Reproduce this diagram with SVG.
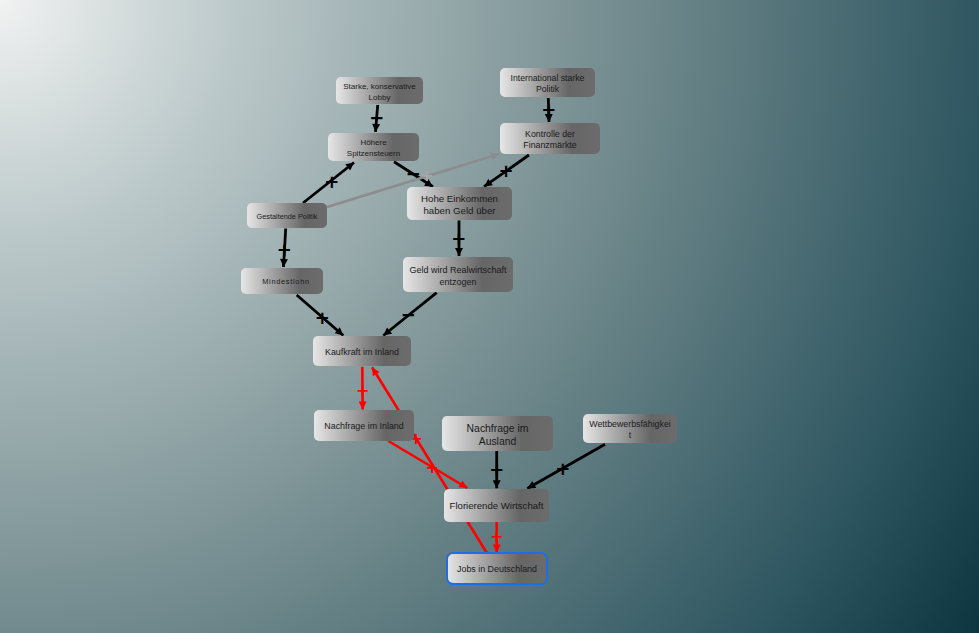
<svg xmlns="http://www.w3.org/2000/svg" width="979" height="633" viewBox="0 0 979 633">
<defs>
<radialGradient id="bg" gradientUnits="userSpaceOnUse" cx="0" cy="0" r="1165">
<stop offset="0" stop-color="#f1f2f2"/>
<stop offset="0.2" stop-color="#bcc9ca"/>
<stop offset="0.45" stop-color="#869b9e"/>
<stop offset="0.55" stop-color="#70898c"/>
<stop offset="0.85" stop-color="#2d5560"/>
<stop offset="1" stop-color="#0c3540"/>
</radialGradient>
<linearGradient id="ng" x1="0" y1="0" x2="1" y2="0">
<stop offset="0" stop-color="#e6e6e6"/>
<stop offset="0.72" stop-color="#666"/>
<stop offset="1" stop-color="#6c6c6c"/>
</linearGradient>
<marker id="ab" viewBox="0 0 10 10" refX="10" refY="5" markerWidth="9" markerHeight="8" markerUnits="userSpaceOnUse" orient="auto"><path d="M0,0 L10,5 L0,10 z" fill="#000"/></marker>
<marker id="ar" viewBox="0 0 10 10" refX="10" refY="5" markerWidth="9" markerHeight="8" markerUnits="userSpaceOnUse" orient="auto"><path d="M0,0 L10,5 L0,10 z" fill="#f00"/></marker>
<marker id="ag" viewBox="0 0 10 10" refX="10" refY="5" markerWidth="9" markerHeight="8" markerUnits="userSpaceOnUse" orient="auto"><path d="M0,0 L10,5 L0,10 z" fill="#8c8c8c"/></marker>
</defs>
<style>
.n rect{fill:url(#ng);stroke:none}
.n text{font-family:"Liberation Sans",Arial,sans-serif;fill:#1a1a1a;text-anchor:middle}
.e{fill:none;stroke:#000;stroke-width:2.8;marker-end:url(#ab)}
.r{fill:none;stroke:#f00;stroke-width:2.6;marker-end:url(#ar)}
.g{fill:none;stroke:#8c8c8c;stroke-width:2.4;marker-end:url(#ag)}
.l{font-family:"DejaVu Sans",sans-serif;font-size:18px;font-weight:bold;text-anchor:middle;fill:#000}
.lr{font-family:"DejaVu Sans",sans-serif;font-size:16px;font-weight:bold;text-anchor:middle;fill:#f00}
.lg{font-family:"DejaVu Sans",sans-serif;font-size:16px;font-weight:bold;text-anchor:middle;fill:#a9a9a9}
</style>
<rect x="0" y="0" width="979" height="633" fill="url(#bg)"/>

<g id="connectors">
<line class="e" x1="377.7" y1="105" x2="375.5" y2="132"/>
<line class="e" x1="303" y1="203" x2="354" y2="162.5"/>
<line class="e" x1="394" y1="161.7" x2="433" y2="186.7"/>
<line class="g" x1="327" y1="207" x2="499" y2="154"/>
<line class="e" x1="548.3" y1="98" x2="549" y2="122"/>
<line class="e" x1="529" y1="155" x2="484" y2="186.7"/>
<line class="e" x1="285.7" y1="228.5" x2="283.5" y2="267"/>
<line class="e" x1="459" y1="220.5" x2="459" y2="256"/>
<line class="e" x1="296.7" y1="295" x2="343.3" y2="335.5"/>
<line class="e" x1="436.7" y1="292.7" x2="383.3" y2="335.5"/>
<line class="r" x1="362.3" y1="366.7" x2="362.7" y2="409.5"/>
<line class="r" x1="486.7" y1="552.7" x2="372" y2="367.3"/>
<line class="r" x1="388.3" y1="441" x2="467.3" y2="488"/>
<line class="r" x1="496.7" y1="522" x2="496.7" y2="552.5"/>
<line class="e" x1="496.7" y1="451" x2="496.7" y2="488.3"/>
<line class="e" x1="605" y1="444.3" x2="527.3" y2="488.5"/>
<text class="l" x="376.7" y="123.5">−</text>
<text class="l" x="331.7" y="187.5">+</text>
<text class="l" x="413.3" y="179.5">−</text>
<text class="lg" x="427" y="181">+</text>
<text class="l" x="548.7" y="115.5">+</text>
<text class="l" x="506" y="176.5">+</text>
<text class="l" x="284.3" y="255.5">+</text>
<text class="l" x="458.7" y="245">+</text>
<text class="l" x="322.3" y="323.5">+</text>
<text class="l" x="408.3" y="321">−</text>
<text class="lr" x="362.7" y="395.5">+</text>
<text class="lr" x="416" y="444">+</text>
<text class="lr" x="432.3" y="472.5">+</text>
<text class="lr" x="496.7" y="542">+</text>
<text class="l" x="496.7" y="475.5">+</text>
<text class="l" x="562.7" y="474.5">+</text>
</g>

<g id="n-lobby" class="n"><rect x="336" y="77" width="87" height="27" rx="5"/><text font-size="8" x="379.5" y="89">Starke, konservative</text><text font-size="8" x="379.5" y="99.5">Lobby</text></g>
<g id="n-spitzensteuern" class="n"><rect x="328" y="133" width="91" height="28" rx="5"/><text font-size="8" x="373.5" y="145">Höhere</text><text font-size="8" x="373.5" y="155.5">Spitzensteuern</text></g>
<g id="n-gestaltende" class="n"><rect x="247" y="203" width="80" height="25" rx="5"/><text font-size="7.3" x="287" y="218.5">Gestaltende Politik</text></g>
<g id="n-mindestlohn" class="n"><rect x="241" y="268" width="82" height="26" rx="5"/><text font-size="7.4" letter-spacing="0.7" x="286" y="284">Mindestlohn</text></g>
<g id="n-international" class="n"><rect x="500" y="68" width="95" height="29" rx="5"/><text font-size="8.7" x="547.5" y="81">International starke</text><text font-size="8.7" x="547.5" y="91.5">Politik</text></g>
<g id="n-kontrolle" class="n"><rect x="500" y="123" width="100" height="31" rx="5"/><text font-size="8.8" x="550" y="136.5">Kontrolle der</text><text font-size="8.8" x="550" y="147.5">Finanzmärkte</text></g>
<g id="n-hohe" class="n"><rect x="407" y="187" width="105" height="33" rx="5"/><text font-size="9.7" x="459.5" y="202">Hohe Einkommen</text><text font-size="9.7" x="459.5" y="214">haben Geld über</text></g>
<g id="n-geld" class="n"><rect x="403" y="257" width="110" height="35" rx="5"/><text font-size="9" x="458" y="273">Geld wird Realwirtschaft</text><text font-size="9" x="458" y="284.5">entzogen</text></g>
<g id="n-kaufkraft" class="n"><rect x="313" y="336" width="98" height="30" rx="5"/><text font-size="8.9" x="362" y="354.5">Kaufkraft im Inland</text></g>
<g id="n-nachfrage-inland" class="n"><rect x="314" y="410" width="100" height="31" rx="5"/><text font-size="8.9" x="364" y="429">Nachfrage im Inland</text></g>
<g id="n-nachfrage-ausland" class="n"><rect x="442" y="416" width="111" height="35" rx="5"/><text font-size="10.4" x="497.5" y="432">Nachfrage im</text><text font-size="10.4" x="497.5" y="444.5">Ausland</text></g>
<g id="n-wettbewerb" class="n"><rect x="583" y="414" width="94" height="29" rx="5"/><text font-size="8.8" x="630" y="427">Wettbewerbsfähigkei</text><text font-size="8.8" x="630" y="438">t</text></g>
<g id="n-florierende" class="n"><rect x="444" y="489" width="105" height="33" rx="5"/><text font-size="9.6" x="496.5" y="509">Florierende Wirtschaft</text></g>
<g id="n-jobs" class="n"><rect x="447" y="553" width="100" height="31" rx="6" style="stroke:#1b6fe6;stroke-width:2"/><text font-size="8.9" x="497" y="572">Jobs in Deutschland</text></g>
</svg>
